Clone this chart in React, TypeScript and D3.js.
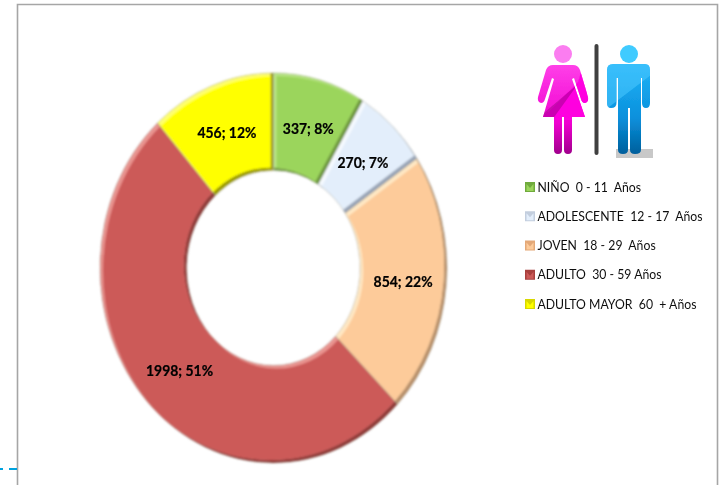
import React from "react";
import * as d3 from "d3";

const categories = ["NIÑO  0 - 11  Años", "ADOLESCENTE  12 - 17  Años", "JOVEN  18 - 29  Años", "ADULTO  30 - 59 Años", "ADULTO MAYOR  60  + Años"];
const values = [337, 270, 854, 1998, 456];
const percents = [8, 7, 22, 51, 12];
const baseColors = ["#9bd55b", "#e3eefb", "#fdcb9a", "#cc5a58", "#ffff00"];
const lightColors = ["#b9e685", "#f6faff", "#ffe8c4", "#ea9490", "#ffff70"];
const darkColors = ["#6f9a40", "#9aa6b8", "#b8906a", "#8f3a39", "#9a9a00"];
const swatchColors = ["#6faa3e", "#c3cede", "#e4a877", "#a83f3d", "#d8d800"];

const W = 721, H = 485;
const cx = 273.5, cy = 268, rx = 173.5, ry = 195;
const R = 100, r0 = 50;
const sx = rx / R, sy = ry / R;
const legendY = d3.scalePoint<number>().domain(d3.range(5)).range([187, 304]);

const pie = d3.pie<number>().sort(null).startAngle(0).endAngle(2 * Math.PI);
const arc = d3.arc<d3.PieArcDatum<number>>().innerRadius(r0).outerRadius(R);
const slices = pie(values);

const womanPath = "M553 65 L573 65 Q578 65 580 70 L588 97 Q589 102 585 103 Q582 103 581 99 L574 78 L572 79 L585 117 L572 117 L572 150 Q572 154 568 154 Q564 154 564 150 L564 117 L562 117 L562 150 Q562 154 558 154 Q554 154 554 150 L554 117 L543 117 L554 79 L552 78 L545 99 Q544 103 541 103 Q537 102 538 97 L546 70 Q548 65 553 65 Z";
const manPath = "M613 64 L645 64 Q650 64 650 70 L650 103 Q650 108 646 108 Q642 108 642 103 L642 78 L641 78 L641 150 Q641 154 635 154 Q630 154 630 150 L630 108 L628 108 L628 150 Q628 154 623 154 Q618 154 618 150 L618 78 L616.5 78 L616.5 103 Q616.5 108 611 108 Q607 108 607 103 L607 70 Q607 64 613 64 Z";

export default function App() {
  const d = (s: d3.PieArcDatum<number>) => arc(s) as string;
  const shift = 3;
  return (
    <svg width={W} height={H} style={{ position: "absolute", left: 0, top: 0, background: "#fff" }}>
      <defs>
        <filter id="soft" x="-5%" y="-5%" width="110%" height="110%"><feGaussianBlur stdDeviation="0.6" /></filter>
        <filter id="txt"><feGaussianBlur stdDeviation="0.3" /></filter>
        <linearGradient id="pink" x1="0" y1="0" x2="0" y2="1">
          <stop offset="0" stopColor="#ff40e8" /><stop offset="0.65" stopColor="#f000d0" /><stop offset="1" stopColor="#a0008c" />
        </linearGradient>
        <linearGradient id="blue" x1="0" y1="0" x2="0" y2="1">
          <stop offset="0" stopColor="#20b4f8" /><stop offset="0.6" stopColor="#0a90dc" /><stop offset="1" stopColor="#005f9c" />
        </linearGradient>
        <clipPath id="wclip"><path d={womanPath} /></clipPath>
        <clipPath id="mclip"><path d={manPath} /></clipPath>
        {slices.map((s, i) => (
          <React.Fragment key={i}>
            <clipPath id={`c${i}`}><path d={d(s)} /></clipPath>
            <clipPath id={`u${i}`}><path d={d(s)} transform={`translate(${-shift / sx},${-shift / sy})`} /></clipPath>
          </React.Fragment>
        ))}
      </defs>

      <path d={`M17.5 ${H} V4.5 H717.5 V${H}`} fill="none" stroke="#a6a6a6" strokeWidth={1.6} />
      <path d="M0 469 H3 M9 469 H17" stroke="#00a2de" strokeWidth={1.8} fill="none" />

      <g filter="url(#soft)" transform={`translate(${cx},${cy}) scale(${sx},${sy})`}>
        {slices.map((s, i) => (
          <g key={i}>
            <g clipPath={`url(#c${i})`}>
              <path d={d(s)} fill={darkColors[i]} />
              <path d={d(s)} fill={lightColors[i]} transform={`translate(${-shift / sx},${-shift / sy})`} />
              <g clipPath={`url(#u${i})`}>
                <path d={d(s)} fill={baseColors[i]} transform={`translate(${shift / sx},${shift / sy})`} />
              </g>
            </g>
            <path d={d(s)} fill="none" stroke="#8a8a7a" strokeOpacity={0.5} strokeWidth={0.4} />
          </g>
        ))}
      </g>

      {slices.map((s, i) => {
        const [x, y] = arc.centroid(s);
        return (
          <text key={i} transform={`translate(${cx + x * sx},${cy + y * sy + 1}) scale(0.9,1)`} dy="0.35em" textAnchor="middle"
            fontFamily="Lato, 'Open Sans', sans-serif" fontWeight={700} fontSize={15.5} fill="#000" stroke="#000" strokeWidth={0.25} filter="url(#txt)">
            {`${values[i]}; ${percents[i]}%`}
          </text>
        );
      })}

      <g filter="url(#txt)">
        <circle cx={563} cy={54} r={9} fill="#fb7df0" />
        <path d={womanPath} fill="url(#pink)" />
        <g clipPath="url(#wclip)">
          <path d="M530 118 L584 66 L590 40 L530 40 Z" fill="#fff" fillOpacity={0} />
          <path d="M540 120 L578 82 L584 62 L590 120 Z" fill="#ff00e0" fillOpacity={0.9} />
          <path d="M538 118 L578 84 L552 120 Z" fill="#a0088c" fillOpacity={0.55} />
        </g>
        <line x1={596.5} x2={596.5} y1={46} y2={153} stroke="#404040" strokeWidth={4} strokeLinecap="round" />
        <rect x={616} y={149} width={37} height={9} fill="#c8c8c8" />
        <circle cx={629} cy={54} r={9} fill="#3fcbff" />
        <path d={manPath} fill="url(#blue)" />
        <g clipPath="url(#mclip)">
          <path d="M600 60 L655 60 L655 72 L605 110 L600 110 Z" fill="#4cc8ff" fillOpacity={0.55} />
        </g>
      </g>

      {categories.map((c, i) => {
        const y = legendY(i) as number;
        return (
          <g key={c} filter="url(#txt)">
            <rect x={525} y={y - 5} width={10} height={10} fill={swatchColors[i]} />
            <path d={`M526.5 ${y + 4} L526.5 ${y - 3} L530 ${y + 1} L533.5 ${y - 3} L533.5 ${y + 4} Z`} fill={baseColors[i]} />
            <text transform={`translate(537.5,${y}) scale(0.95,1)`} dy="0.36em" fontFamily="Lato, 'Open Sans', sans-serif" fontSize={12.9} fill="#111" style={{ whiteSpace: "pre" }}>{c}</text>
          </g>
        );
      })}
    </svg>
  );
}
